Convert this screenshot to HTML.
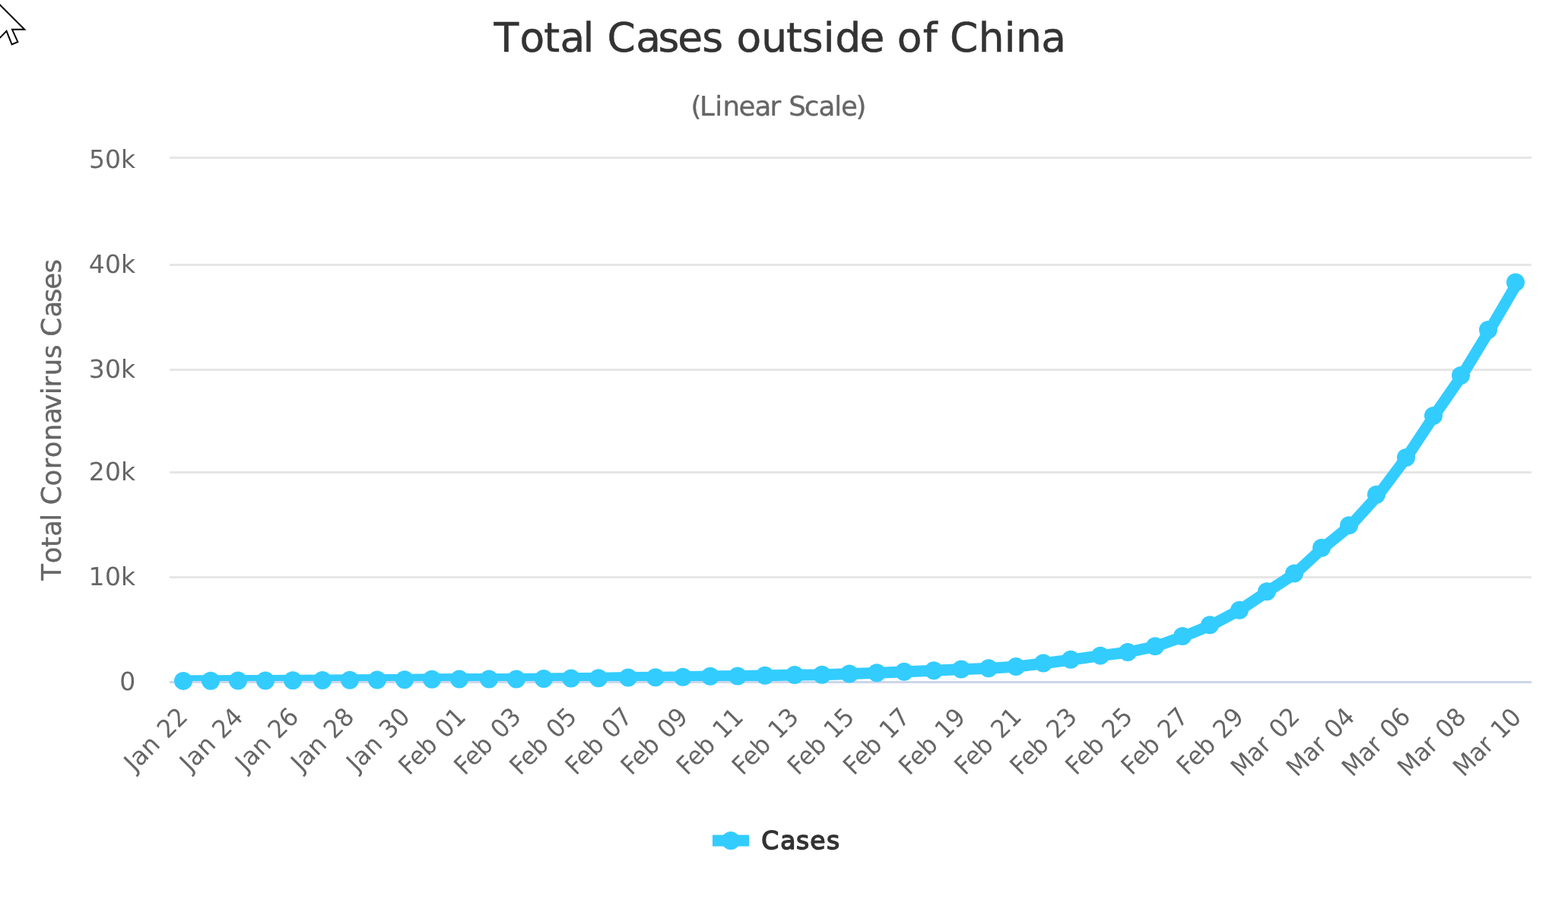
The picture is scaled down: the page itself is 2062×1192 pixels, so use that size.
<!DOCTYPE html>
<html lang="en"><head><meta charset="utf-8"><title>Total Cases outside of China</title>
<style>html,body{margin:0;padding:0;background:#fff;}body{width:2062px;height:1192px;overflow:hidden;}svg{display:block;}text{font-family:"DejaVu Sans", "Liberation Sans", sans-serif;white-space:pre;text-rendering:geometricPrecision;}</style>
</head><body>
<svg width="2062" height="1192" viewBox="0 0 2062 1192">
<rect x="0" y="0" width="2062" height="1192" fill="#ffffff"/>
<defs><clipPath id="plotclip"><rect x="223" y="206" width="1791" height="690"/></clipPath></defs>
<g stroke="#e6e6e6" stroke-width="3" fill="none">
<path d="M 223 207.5 L 2014 207.5"/>
<path d="M 223 348.5 L 2014 348.5"/>
<path d="M 223 486.5 L 2014 486.5"/>
<path d="M 223 621.5 L 2014 621.5"/>
<path d="M 223 759.5 L 2014 759.5"/>
</g>
<path d="M 223 897.5 L 2014 897.5" stroke="#ccd6eb" stroke-width="3" fill="none"/>
<text x="649.50 683.55 715.15 736.50 766.62 781.46 798.46 836.25 865.47 891.34 923.22 951.04 968.55 1001.25 1033.95 1054.67 1082.67 1098.23 1130.41 1163.27 1179.65 1213.67 1232.47 1249.06 1286.81 1320.67 1336.01 1369.20" y="68.25" font-size="53.4" fill="#333333" stroke="#333333" stroke-width="0.5" stroke-linejoin="round">Total Cases outside of China</text>
<text x="908.42 919.93 940.17 950.56 971.46 992.53 1012.60 1027.24 1037.17 1057.64 1076.43 1097.37 1106.06 1125.60" y="151.7" font-size="35.6" fill="#666666" stroke="#666666" stroke-width="0.35" stroke-linejoin="round">(Linear Scale)</text>
<text x="-763.85 -741.15 -720.08 -705.87 -685.78 -675.89 -664.36 -639.50 -617.35 -602.30 -580.34 -557.82 -539.40 -519.18 -509.40 -494.22 -471.94 -453.39 -442.66 -417.47 -397.99 -380.74 -359.49" y="0" font-size="35.6" fill="#666666" stroke="#666666" stroke-width="0.35" stroke-linejoin="round" transform="translate(80 0) rotate(-90)">Total Coronavirus Cases</text>
<text x="116.95 138.05 158.90" y="221" font-size="33" fill="#666666">50k</text>
<text x="116.76 138.05 158.90" y="359" font-size="33" fill="#666666">40k</text>
<text x="116.76 138.05 158.90" y="497" font-size="33" fill="#666666">30k</text>
<text x="116.68 138.05 158.90" y="632" font-size="33" fill="#666666">20k</text>
<text x="116.39 138.05 158.90" y="770" font-size="33" fill="#666666">10k</text>
<text x="157.17" y="908" font-size="33" fill="#666666">0</text>
<text font-size="33" fill="#666666" transform="translate(247.58 946.00) rotate(-45)"><tspan x="-99.71" y="0" textLength="49.72" lengthAdjust="spacingAndGlyphs">Jan</tspan> <tspan x="-38.27" y="0" textLength="39.89" lengthAdjust="spacingAndGlyphs">22</tspan></text>
<text font-size="33" fill="#666666" transform="translate(320.68 946.00) rotate(-45)"><tspan x="-99.71" y="0" textLength="49.72" lengthAdjust="spacingAndGlyphs">Jan</tspan> <tspan x="-38.97" y="0" textLength="39.89" lengthAdjust="spacingAndGlyphs">24</tspan></text>
<text font-size="33" fill="#666666" transform="translate(393.78 946.00) rotate(-45)"><tspan x="-99.71" y="0" textLength="49.72" lengthAdjust="spacingAndGlyphs">Jan</tspan> <tspan x="-38.85" y="0" textLength="39.89" lengthAdjust="spacingAndGlyphs">26</tspan></text>
<text font-size="33" fill="#666666" transform="translate(466.88 946.00) rotate(-45)"><tspan x="-99.71" y="0" textLength="49.72" lengthAdjust="spacingAndGlyphs">Jan</tspan> <tspan x="-38.77" y="0" textLength="39.89" lengthAdjust="spacingAndGlyphs">28</tspan></text>
<text font-size="33" fill="#666666" transform="translate(539.98 946.00) rotate(-45)"><tspan x="-99.71" y="0" textLength="49.72" lengthAdjust="spacingAndGlyphs">Jan</tspan> <tspan x="-38.81" y="0" textLength="39.89" lengthAdjust="spacingAndGlyphs">30</tspan></text>
<text font-size="33" fill="#666666" transform="translate(613.09 946.00) rotate(-45)"><tspan x="-106.34" y="0" textLength="55.28" lengthAdjust="spacingAndGlyphs">Feb</tspan> <tspan x="-38.27" y="0" textLength="39.89" lengthAdjust="spacingAndGlyphs">01</tspan></text>
<text font-size="33" fill="#666666" transform="translate(686.19 946.00) rotate(-45)"><tspan x="-106.34" y="0" textLength="55.28" lengthAdjust="spacingAndGlyphs">Feb</tspan> <tspan x="-38.46" y="0" textLength="39.89" lengthAdjust="spacingAndGlyphs">03</tspan></text>
<text font-size="33" fill="#666666" transform="translate(759.29 946.00) rotate(-45)"><tspan x="-106.34" y="0" textLength="55.28" lengthAdjust="spacingAndGlyphs">Feb</tspan> <tspan x="-38.34" y="0" textLength="39.89" lengthAdjust="spacingAndGlyphs">05</tspan></text>
<text font-size="33" fill="#666666" transform="translate(832.39 946.00) rotate(-45)"><tspan x="-106.34" y="0" textLength="55.28" lengthAdjust="spacingAndGlyphs">Feb</tspan> <tspan x="-38.38" y="0" textLength="39.89" lengthAdjust="spacingAndGlyphs">07</tspan></text>
<text font-size="33" fill="#666666" transform="translate(905.49 946.00) rotate(-45)"><tspan x="-106.34" y="0" textLength="55.28" lengthAdjust="spacingAndGlyphs">Feb</tspan> <tspan x="-38.62" y="0" textLength="39.89" lengthAdjust="spacingAndGlyphs">09</tspan></text>
<text font-size="33" fill="#666666" transform="translate(978.60 946.00) rotate(-45)"><tspan x="-106.34" y="0" textLength="55.28" lengthAdjust="spacingAndGlyphs">Feb</tspan> <tspan x="-38.97" y="0" textLength="39.89" lengthAdjust="spacingAndGlyphs">11</tspan></text>
<text font-size="33" fill="#666666" transform="translate(1051.70 946.00) rotate(-45)"><tspan x="-106.34" y="0" textLength="55.28" lengthAdjust="spacingAndGlyphs">Feb</tspan> <tspan x="-39.17" y="0" textLength="39.89" lengthAdjust="spacingAndGlyphs">13</tspan></text>
<text font-size="33" fill="#666666" transform="translate(1124.80 946.00) rotate(-45)"><tspan x="-106.34" y="0" textLength="55.28" lengthAdjust="spacingAndGlyphs">Feb</tspan> <tspan x="-39.05" y="0" textLength="39.89" lengthAdjust="spacingAndGlyphs">15</tspan></text>
<text font-size="33" fill="#666666" transform="translate(1197.90 946.00) rotate(-45)"><tspan x="-106.34" y="0" textLength="55.28" lengthAdjust="spacingAndGlyphs">Feb</tspan> <tspan x="-39.09" y="0" textLength="39.89" lengthAdjust="spacingAndGlyphs">17</tspan></text>
<text font-size="33" fill="#666666" transform="translate(1271.00 946.00) rotate(-45)"><tspan x="-106.34" y="0" textLength="55.28" lengthAdjust="spacingAndGlyphs">Feb</tspan> <tspan x="-39.32" y="0" textLength="39.89" lengthAdjust="spacingAndGlyphs">19</tspan></text>
<text font-size="33" fill="#666666" transform="translate(1344.11 946.00) rotate(-45)"><tspan x="-106.34" y="0" textLength="55.28" lengthAdjust="spacingAndGlyphs">Feb</tspan> <tspan x="-38.38" y="0" textLength="39.89" lengthAdjust="spacingAndGlyphs">21</tspan></text>
<text font-size="33" fill="#666666" transform="translate(1417.21 946.00) rotate(-45)"><tspan x="-106.34" y="0" textLength="55.28" lengthAdjust="spacingAndGlyphs">Feb</tspan> <tspan x="-38.58" y="0" textLength="39.89" lengthAdjust="spacingAndGlyphs">23</tspan></text>
<text font-size="33" fill="#666666" transform="translate(1490.31 946.00) rotate(-45)"><tspan x="-106.34" y="0" textLength="55.28" lengthAdjust="spacingAndGlyphs">Feb</tspan> <tspan x="-38.46" y="0" textLength="39.89" lengthAdjust="spacingAndGlyphs">25</tspan></text>
<text font-size="33" fill="#666666" transform="translate(1563.41 946.00) rotate(-45)"><tspan x="-106.34" y="0" textLength="55.28" lengthAdjust="spacingAndGlyphs">Feb</tspan> <tspan x="-38.50" y="0" textLength="39.89" lengthAdjust="spacingAndGlyphs">27</tspan></text>
<text font-size="33" fill="#666666" transform="translate(1636.51 946.00) rotate(-45)"><tspan x="-106.34" y="0" textLength="55.28" lengthAdjust="spacingAndGlyphs">Feb</tspan> <tspan x="-38.74" y="0" textLength="39.89" lengthAdjust="spacingAndGlyphs">29</tspan></text>
<text font-size="33" fill="#666666" transform="translate(1709.62 946.00) rotate(-45)"><tspan x="-109.21" y="0" textLength="58.18" lengthAdjust="spacingAndGlyphs">Mar</tspan> <tspan x="-38.15" y="0" textLength="39.89" lengthAdjust="spacingAndGlyphs">02</tspan></text>
<text font-size="33" fill="#666666" transform="translate(1782.72 946.00) rotate(-45)"><tspan x="-109.21" y="0" textLength="58.18" lengthAdjust="spacingAndGlyphs">Mar</tspan> <tspan x="-38.85" y="0" textLength="39.89" lengthAdjust="spacingAndGlyphs">04</tspan></text>
<text font-size="33" fill="#666666" transform="translate(1855.82 946.00) rotate(-45)"><tspan x="-109.21" y="0" textLength="58.18" lengthAdjust="spacingAndGlyphs">Mar</tspan> <tspan x="-38.74" y="0" textLength="39.89" lengthAdjust="spacingAndGlyphs">06</tspan></text>
<text font-size="33" fill="#666666" transform="translate(1928.92 946.00) rotate(-45)"><tspan x="-109.21" y="0" textLength="58.18" lengthAdjust="spacingAndGlyphs">Mar</tspan> <tspan x="-38.66" y="0" textLength="39.89" lengthAdjust="spacingAndGlyphs">08</tspan></text>
<text font-size="33" fill="#666666" transform="translate(2002.02 946.00) rotate(-45)"><tspan x="-109.21" y="0" textLength="58.18" lengthAdjust="spacingAndGlyphs">Mar</tspan> <tspan x="-39.36" y="0" textLength="39.89" lengthAdjust="spacingAndGlyphs">10</tspan></text>
<g clip-path="url(#plotclip)"><path d="M 241.28 895.88 L 277.83 895.79 L 314.38 895.59 L 350.93 895.45 L 387.48 895.23 L 424.03 895.09 L 460.58 894.85 L 497.13 894.60 L 533.68 894.20 L 570.23 893.82 L 606.79 893.62 L 643.34 893.44 L 679.89 893.39 L 716.44 892.96 L 752.99 892.59 L 789.54 892.18 L 826.09 891.47 L 862.64 891.14 L 899.19 890.75 L 935.74 889.67 L 972.30 889.39 L 1008.85 888.77 L 1045.40 887.93 L 1081.95 887.65 L 1118.50 886.42 L 1155.05 885.27 L 1191.60 883.69 L 1228.15 882.27 L 1264.70 880.56 L 1301.26 879.35 L 1337.81 876.97 L 1374.36 872.44 L 1410.91 867.76 L 1447.46 862.63 L 1484.01 858.02 L 1520.56 850.22 L 1557.11 837.08 L 1593.66 822.17 L 1630.21 802.72 L 1666.77 778.33 L 1703.32 754.51 L 1739.87 720.80 L 1776.42 691.18 L 1812.97 650.67 L 1849.52 602.06 L 1886.07 546.91 L 1922.62 494.02 L 1959.17 433.97 L 1995.72 371.54" fill="none" stroke="#33ccff" stroke-width="15" stroke-linejoin="round" stroke-linecap="round"/></g>
<g fill="#33ccff">
<circle cx="241" cy="895.88" r="12"/>
<circle cx="277" cy="895.79" r="12"/>
<circle cx="313" cy="895.59" r="12"/>
<circle cx="349" cy="895.45" r="12"/>
<circle cx="385" cy="895.23" r="12"/>
<circle cx="424" cy="895.09" r="12"/>
<circle cx="460" cy="894.85" r="12"/>
<circle cx="496" cy="894.60" r="12"/>
<circle cx="532" cy="894.20" r="12"/>
<circle cx="568" cy="893.82" r="12"/>
<circle cx="604" cy="893.62" r="12"/>
<circle cx="643" cy="893.44" r="12"/>
<circle cx="679" cy="893.39" r="12"/>
<circle cx="715" cy="892.96" r="12"/>
<circle cx="751" cy="892.59" r="12"/>
<circle cx="787" cy="892.18" r="12"/>
<circle cx="826" cy="891.47" r="12"/>
<circle cx="862" cy="891.14" r="12"/>
<circle cx="898" cy="890.75" r="12"/>
<circle cx="934" cy="889.67" r="12"/>
<circle cx="970" cy="889.39" r="12"/>
<circle cx="1006" cy="888.77" r="12"/>
<circle cx="1045" cy="887.93" r="12"/>
<circle cx="1081" cy="887.65" r="12"/>
<circle cx="1117" cy="886.42" r="12"/>
<circle cx="1153" cy="885.27" r="12"/>
<circle cx="1189" cy="883.69" r="12"/>
<circle cx="1228" cy="882.27" r="12"/>
<circle cx="1264" cy="880.56" r="12"/>
<circle cx="1300" cy="879.35" r="12"/>
<circle cx="1336" cy="876.97" r="12"/>
<circle cx="1372" cy="872.44" r="12"/>
<circle cx="1408" cy="867.76" r="12"/>
<circle cx="1447" cy="862.63" r="12"/>
<circle cx="1483" cy="858.02" r="12"/>
<circle cx="1519" cy="850.22" r="12"/>
<circle cx="1555" cy="837.08" r="12"/>
<circle cx="1591" cy="822.17" r="12"/>
<circle cx="1630" cy="802.72" r="12"/>
<circle cx="1666" cy="778.33" r="12"/>
<circle cx="1702" cy="754.51" r="12"/>
<circle cx="1738" cy="720.80" r="12"/>
<circle cx="1774" cy="691.18" r="12"/>
<circle cx="1810" cy="650.67" r="12"/>
<circle cx="1849" cy="602.06" r="12"/>
<circle cx="1885" cy="546.91" r="12"/>
<circle cx="1921" cy="494.02" r="12"/>
<circle cx="1957" cy="433.97" r="12"/>
<circle cx="1993" cy="371.54" r="12"/>
</g>
<path d="M 937 1106 L 985 1106" stroke="#33ccff" stroke-width="15" fill="none"/>
<circle cx="961" cy="1106" r="12" fill="#33ccff"/>
<text x="1001.37 1026.35 1047.10 1065.32 1086.95" y="1117" font-size="32.8" fill="#333333" stroke="#333333" stroke-width="1.5" stroke-linejoin="round">Cases</text>
<path d="M -8 -1.5 L 32.3 38.8 L 16 38.8 L 23.4 55.2 L 15.6 58.5 L 8.6 40.8 L -8 57.9 Z" fill="#ffffff" stroke="#000000" stroke-width="2" stroke-linejoin="miter"/>
</svg>
</body></html>
